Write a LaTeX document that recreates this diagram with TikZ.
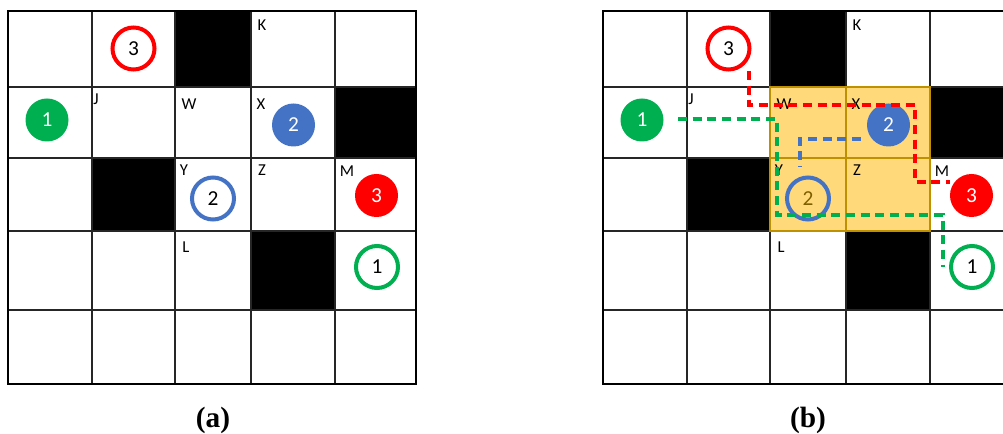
\documentclass[tikz,border=0pt]{standalone}
\usepackage{fontspec}
\setmainfont{Liberation Serif}
\newfontfamily\calfont{Carlito}
\definecolor{mred}{HTML}{FF0000}
\definecolor{mgreen}{HTML}{00B050}
\definecolor{mblue}{HTML}{4472C4}
\definecolor{myellow}{HTML}{FFD97A}
\definecolor{mgold}{HTML}{BF9000}
\definecolor{mbrown}{HTML}{7F6000}
\tikzset{
  gridline/.style={line width=1pt, draw=black!85},
  gridouter/.style={line width=1.5pt, draw=black},
  lbl/.style={font=\calfont\fontsize{12.5}{14}\selectfont, inner sep=0pt},
  dotnode/.style={circle, inner sep=0pt, minimum size=32.25pt, text=white,
                  font=\calfont\fontsize{16}{19}\selectfont},
  ringnode/.style={circle, inner sep=0pt, minimum size=31.5pt, line width=3pt,
                   font=\calfont\fontsize{16}{19}\selectfont},
  route/.style={line width=2.5pt, dash pattern=on 6.75pt off 4.25pt},
  sublabel/.style={font=\fontsize{22}{26}\selectfont\bfseries, inner sep=0pt},
}
\newcommand\gridbase{%
  \fill[black] (175,11) rectangle (251,87);
  \fill[black] (335,87) rectangle (416,158);
  \fill[black] (92,158) rectangle (175,231);
  \fill[black] (251,231) rectangle (335,310);
  \foreach \x in {92,175,251,335} \draw[gridline] (\x,11) -- (\x,384);
  \foreach \y in {87,158,231,310} \draw[gridline] (8,\y) -- (416,\y);
  \draw[gridouter] (8,11) rectangle (416,384);
}
\newcommand\gridmarks[2]{%
  \node[lbl] (#1K) at (262,25) {K};
  \node[lbl] (#1J) at (96,99) {J};
  \node[lbl] (#1W) at (189,104) {W};
  \node[lbl] (#1X) at (261,104) {X};
  \node[lbl] (#1Y) at (184,170) {Y};
  \node[lbl] (#1Z) at (262,170) {Z};
  \node[lbl] (#1M) at (347,171) {M};
  \node[lbl] (#1L) at (186,247) {L};
  \node[ringnode, draw=mred] (#1R3) at (133.5,48.5) {3};
  \node[dotnode, fill=mgreen] (#1G1) at (47,120) {1};
  \node[dotnode, fill=mblue] (#1B2) at (293.5,125) {2};
  \node[ringnode, draw=mblue, text=#2] (#1B2r) at (213,198.5) {2};
  \node[dotnode, fill=mred] (#1R3f) at (376.5,195.5) {3};
  \node[ringnode, draw=mgreen] (#1G1r) at (377,267) {1};
}
\begin{document}
\begin{tikzpicture}[x=0.75pt, y=-0.75pt]
\useasboundingbox (0,0) rectangle (1003,434);
\clip (0,0) rectangle (1003,434);
\fill[white] (0,0) rectangle (1003,434);
% (a)
\begin{scope}
  \gridbase
  \gridmarks{a}{black}
\end{scope}
\node[sublabel] (capa) at (213,420) {(a)};
% (b)
\begin{scope}[shift={(595,0)}]
  \gridbase
  \fill[myellow] (175,87) rectangle (335,231);
  \draw[line width=1pt, draw=mgold] (251,87) -- (251,231);
  \draw[line width=1pt, draw=mgold] (175,158) -- (335,158);
  \draw[line width=1pt, draw=mgold] (175,87) rectangle (335,231);
  \gridmarks{b}{mbrown}
  \coordinate (rs) at (154,71);
  \coordinate (re) at (355,182);
  \draw[route, mred] (rs) -- (154,105) -- (320,105) -- (320,182) -- (re);
  \coordinate (gs) at (83,119);
  \coordinate (ge) at (348,267);
  \draw[route, mgreen] (gs) -- (182,119) -- (182,215) -- (348,215) -- (ge);
  \coordinate (bs) at (266,139);
  \coordinate (be) at (205,167);
  \draw[route, mblue] (bs) -- (205,139) -- (be);
\end{scope}
\node[sublabel] (capb) at (808,420) {(b)};
\end{tikzpicture}
\end{document}
